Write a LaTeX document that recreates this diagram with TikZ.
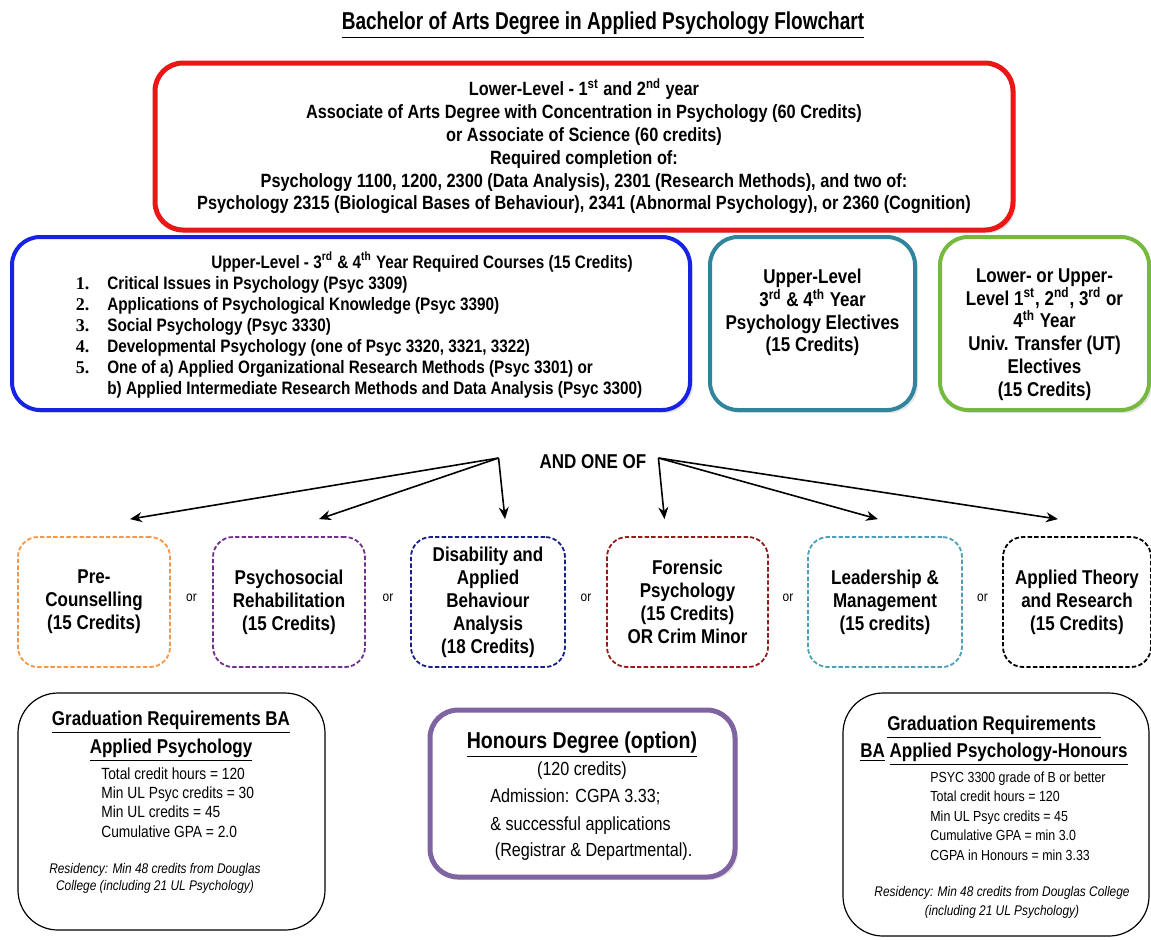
\documentclass[tikz,border=0pt]{standalone}
\usepackage{fontspec}
\setmainfont{Liberation Sans}[FakeStretch=0.85]
\newfontfamily\titlefont{Liberation Sans}[FakeStretch=0.78]
\newfontfamily\numfont{Liberation Serif}
\usepackage{tikz}
\usetikzlibrary{positioning, arrows.meta, calc, shadows}

\definecolor{lowred}{RGB}{236,22,22}
\definecolor{reqblue}{RGB}{22,34,228}
\definecolor{electeal}{RGB}{49,132,155}
\definecolor{utgreen}{RGB}{119,185,62}
\definecolor{hnpurple}{RGB}{128,100,162}
\definecolor{pcorange}{RGB}{247,150,70}
\definecolor{psrpurple}{RGB}{112,48,140}
\definecolor{abanavy}{RGB}{22,32,140}
\definecolor{fscred}{RGB}{150,28,28}
\definecolor{ldrteal}{RGB}{75,160,185}

\tikzset{
  levelbox/.style={draw=#1, line width=2pt, rounded corners=14pt, fill=white,
    drop shadow={opacity=0.2, shadow xshift=1.5pt, shadow yshift=-1.5pt},
    align=center, inner sep=0pt},
  optbox/.style={draw=#1, line width=0.9pt, dash pattern=on 2.2pt off 1.1pt,
    rounded corners=10pt, align=center, minimum width=76pt, minimum height=65pt,
    inner sep=0pt, font=\fontsize{10}{11.5}\selectfont\bfseries},
  gradbox/.style={draw, line width=0.6pt, rounded corners=20pt},
  orword/.style={font=\fontsize{7}{8}\selectfont},
  pick/.style={-{Stealth[length=6pt,width=5pt]}, line width=0.8pt},
}

\begin{document}
\begin{tikzpicture}[x=0.5pt, y=-0.5pt]
  \fill[white] (0,0) rectangle (1151,939);
  \useasboundingbox (0,0) rectangle (1151,939);

  \node (title) at (603,25) {\titlefont\fontsize{12.2}{14}\selectfont\bfseries
    \underline{Bachelor of Arts Degree in Applied Psychology Flowchart}};

  % first two years
  \node (lower) [levelbox=lowred, line width=2.5pt, minimum width=429pt, minimum height=83.5pt,
    font=\fontsize{9.6}{11.4}\selectfont\bfseries] at (584,146.5)
    {Lower-Level - 1\textsuperscript{st} and 2\textsuperscript{nd} year\\
     Associate of Arts Degree with Concentration in Psychology (60 Credits)\\
     or Associate of Science (60 credits)\\
     Required completion of:\\
     Psychology 1100, 1200, 2300 (Data Analysis), 2301 (Research Methods), and two of:\\
     Psychology 2315 (Biological Bases of Behaviour), 2341 (Abnormal Psychology), or 2360 (Cognition)};

  % upper level
  \node (req) [levelbox=reqblue, minimum width=339pt, minimum height=86.5pt] at (351,323.5) {};
  \node (reqlist) [inner sep=0pt, font=\fontsize{9}{10.5}\selectfont\bfseries] at (359,326) {%
    \begin{tabular}{@{}r@{\hspace{9pt}}l@{}}
      & \hspace*{52pt}Upper-Level - 3\textsuperscript{rd} \& 4\textsuperscript{th} Year Required Courses (15 Credits)\\
      {\numfont\bfseries 1.} & Critical Issues in Psychology (Psyc 3309)\\
      {\numfont\bfseries 2.} & Applications of Psychological Knowledge (Psyc 3390)\\
      {\numfont\bfseries 3.} & Social Psychology (Psyc 3330)\\
      {\numfont\bfseries 4.} & Developmental Psychology (one of Psyc 3320, 3321, 3322)\\
      {\numfont\bfseries 5.} & One of a) Applied Organizational Research Methods (Psyc 3301) or\\
      & b) Applied Intermediate Research Methods and Data Analysis (Psyc 3300)
    \end{tabular}};

  \node (elec) [levelbox=electeal, minimum width=102.5pt, minimum height=86.5pt,
    label={[yshift=5.5pt, align=center, font=\fontsize{10}{11.4}\selectfont\bfseries]center:Upper-Level\\
      3\textsuperscript{rd} \& 4\textsuperscript{th} Year\\Psychology Electives\\(15 Credits)}] at (812.5,323.5) {};
  \node (ut) [levelbox=utgreen, minimum width=104.5pt, minimum height=86.5pt,
    label={[yshift=-5.5pt, align=center, font=\fontsize{10}{11.4}\selectfont\bfseries]center:Lower- or Upper-\\
      Level 1\textsuperscript{st}, 2\textsuperscript{nd}, 3\textsuperscript{rd} or\\
      4\textsuperscript{th} Year\\Univ. Transfer (UT)\\Electives\\(15 Credits)}] at (1044.5,323.5) {};

  \node (andone) [font=\fontsize{10}{12}\selectfont\bfseries] at (593,462) {AND ONE OF};
  \coordinate (fromL) at ([shift={(-17pt,2pt)}]andone.west);
  \coordinate (fromR) at ([shift={(2.5pt,2pt)}]andone.east);

  % concentrations
  \node (pc)  [optbox=pcorange]  at (94,602)    {Pre-\\Counselling\\(15 Credits)};
  \node (psr) [optbox=psrpurple] at (289,602)   {Psychosocial\\Rehabilitation\\(15 Credits)};
  \node (aba) [optbox=abanavy, minimum width=77pt] at (488,602)
    {Disability and\\Applied\\Behaviour\\Analysis\\(18 Credits)};
  \node (fsc) [optbox=fscred, minimum width=80.5pt] at (687.5,602)
    {Forensic\\Psychology\\(15 Credits)\\OR Crim Minor};
  \node (ldr) [optbox=ldrteal, minimum width=77pt] at (885,602)
    {Leadership \&\\Management\\(15 credits)};
  \node (atr) [optbox=black, minimum width=74pt] at (1077,602)
    {Applied Theory\\and Research\\(15 Credits)};

  \node (or1) [orword, yshift=2pt] at ($(pc.east)!0.5!(psr.west)$) {or};
  \node (or2) [orword, yshift=2pt] at ($(psr.east)!0.5!(aba.west)$) {or};
  \node (or3) [orword, yshift=2pt] at ($(aba.east)!0.5!(fsc.west)$) {or};
  \node (or4) [orword, yshift=2pt] at ($(fsc.east)!0.5!(ldr.west)$) {or};
  \node (or5) [orword, yshift=2pt] at ($(ldr.east)!0.5!(atr.west)$) {or};

  \draw [pick] (fromL) -- ([shift={(18pt,8.5pt)}]pc.north);
  \draw [pick] (fromL) -- ([shift={(15pt,8.5pt)}]psr.north);
  \draw [pick] (fromL) -- ([shift={(8.5pt,8.5pt)}]aba.north);
  \draw [pick] (fromR) -- ([shift={(-11.5pt,8.5pt)}]fsc.north);
  \draw [pick] (fromR) -- ([shift={(-3.5pt,8.5pt)}]ldr.north);
  \draw [pick] (fromR) -- ([shift={(-9.5pt,8.5pt)}]atr.north);

  % graduation
  \node (gradL) [gradbox, minimum width=153.5pt, minimum height=118.5pt] at (171.5,811.5) {};
  \node (gradLhead) [align=center, font=\fontsize{10}{11.5}\selectfont\bfseries] at (171,736)
    {\underline{Graduation Requirements BA}\\[2.5pt]\underline{Applied Psychology}};
  \node (gradLlist) [anchor=west, align=left, inner sep=0pt, font=\fontsize{8.1}{9.6}\selectfont] at (101,802.5)
    {Total credit hours = 120\\Min UL Psyc credits = 30\\Min UL credits = 45\\Cumulative GPA = 2.0};
  \node (gradLres) [align=center, font=\fontsize{7}{8.5}\selectfont\itshape] at (155,878.5)
    {Residency: Min 48 credits from Douglas\\College (including 21 UL Psychology)};

  \node (hons) [levelbox=hnpurple, line width=2.5pt, minimum width=152.5pt, minimum height=83.5pt] at (582.5,793.5) {};
  \node (hnhead) [font=\fontsize{11.5}{13}\selectfont\bfseries] at (582,745) {\underline{Honours Degree (option)}};
  \node (hncred) [font=\fontsize{9.5}{11}\selectfont] at (582,771) {(120 credits)};
  \node (hnadm) [anchor=west, align=left, inner sep=0pt, font=\fontsize{9.5}{11}\selectfont] at (490,825)
    {Admission: CGPA 3.33;\\[3pt]\& successful applications\\[2pt]\ (Registrar \& Departmental).};

  \node (gradR) [gradbox, minimum width=153pt, minimum height=121.5pt] at (996,814.5) {};
  \node (gradRhead) [align=center, font=\fontsize{10}{11.5}\selectfont\bfseries] at (994,741)
    {\underline{Graduation Requirements\ }\\[2pt]\underline{BA} \underline{Applied Psychology-Honours}};
  \node (gradRlist) [anchor=west, align=left, inner sep=0pt, font=\fontsize{7.3}{9.75}\selectfont] at (930,816)
    {PSYC 3300 grade of B or better\\Total credit hours = 120\\Min UL Psyc credits = 45\\
     Cumulative GPA = min 3.0\\CGPA in Honours = min 3.33};
  \node (gradRres) [align=center, font=\fontsize{7}{9.5}\selectfont\itshape] at (1002,902.5)
    {Residency: Min 48 credits from Douglas College\\(including 21 UL Psychology)};
\end{tikzpicture}
\end{document}
